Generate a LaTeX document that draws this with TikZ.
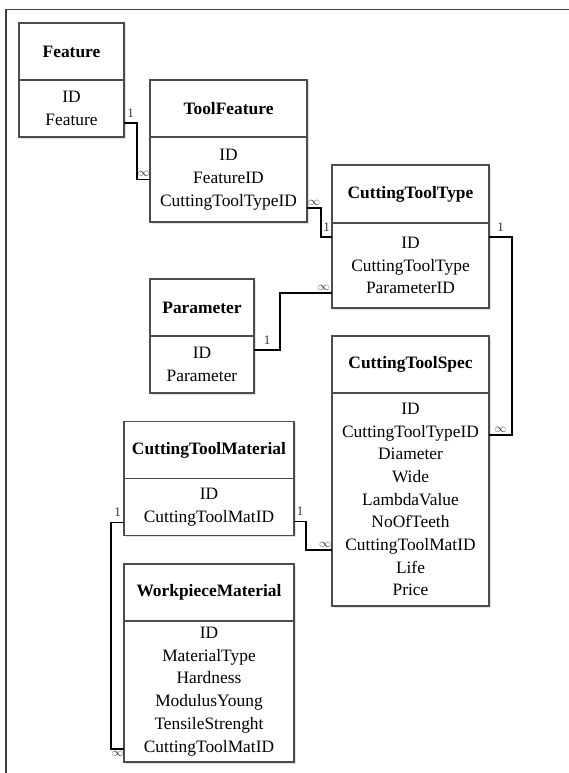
\documentclass[tikz,border=0pt]{standalone}
\usepackage{fontspec}
\setmainfont{Liberation Serif}
\usetikzlibrary{positioning,shadows}

\begin{document}
\fontsize{17.4}{22.7}\selectfont
\begin{tikzpicture}[x=1pt, y=-1pt,
  tab/.style={draw=black!70, line width=1.3pt, fill=white, inner sep=0pt, outer sep=0pt,
    minimum height=57pt, drop shadow={shadow xshift=1.5pt, shadow yshift=-1.5pt, fill=black!25}},
  head/.style={tab, font=\bfseries},
  rows/.style={tab, align=center},
  link/.style={line width=1.6pt},
  card/.style={font=\fontsize{13}{15}\selectfont, text=black!80, inner sep=1pt}]
  \useasboundingbox (0,0) rectangle (569,773);
  \draw[line width=1.8pt, black!75] (6,773) |- (569,9.5);

  \node[head, minimum width=105pt] (feat) at (71.5,51.5) {Feature};
  \node[rows, minimum width=105pt, below=0pt of feat] (featb) {ID\\Feature};

  \node[head, minimum width=157pt] (tf) at (228.5,108.5) {ToolFeature};
  \node[rows, minimum width=157pt, minimum height=85pt, below=0pt of tf] (tfb) {ID\\FeatureID\\CuttingToolTypeID};

  \node[head, minimum width=157pt, minimum height=58pt] (ctt) at (410.5,194) {CuttingToolType};
  \node[rows, minimum width=157pt, minimum height=85pt, below=0pt of ctt] (cttb) {ID\\CuttingToolType\\ParameterID};

  \node[head, minimum width=104pt] (par) at (202,307.5) {Parameter};
  \node[rows, minimum width=104pt, below=0pt of par] (parb) {ID\\Parameter};

  \node[head, minimum width=157pt] (cts) at (410.5,364.5) {CuttingToolSpec};
  \node[rows, minimum width=157pt, minimum height=213pt, below=0pt of cts] (ctsb)
    {ID\\CuttingToolTypeID\\Diameter\\Wide\\LambdaValue\\NoOfTeeth\\CuttingToolMatID\\Life\\Price};

  \node[head, minimum width=170pt] (ctm) at (209,450) {CuttingToolMaterial};
  \node[rows, minimum width=170pt, below=0pt of ctm] (ctmb) {ID\\CuttingToolMatID};

  \node[head, minimum width=170pt] (wm) at (209,592.5) {WorkpieceMaterial};
  \node[rows, minimum width=170pt, minimum height=141pt, below=0pt of wm] (wmb)
    {ID\\MaterialType\\Hardness\\ModulusYoung\\TensileStrenght\\CuttingToolMatID};

  \draw[link] ([yshift=-14.5pt]featb.east) -- node[card, above=4pt] {1} ++(13,0)
    |- node[card, above=1pt, pos=0.75] {$\infty$} (tfb.west);
  \draw[link] ([yshift=-28.5pt]tfb.east) -- node[card, above=1pt] {$\infty$} ++(14,0)
    |- node[card, above=4pt, pos=0.75] {1} ([yshift=28.5pt]cttb.west);
  \draw[link] ([yshift=14.5pt]parb.east) -- node[card, above=4pt] {1} ++(26,0)
    |- node[card, above=1pt, pos=0.92] {$\infty$} ([yshift=-27.5pt]cttb.west);
  \draw[link] ([yshift=28.5pt]cttb.east) -- node[card, above=4pt] {1} ++(23,0)
    |- node[card, above=1pt, pos=0.75] {$\infty$} ([yshift=64.5pt]ctsb.east);
  \draw[link] ([yshift=-14.5pt]ctmb.east) -- node[card, above=4pt] {1} ++(12,0)
    |- node[card, above=1pt, pos=0.87] {$\infty$} ([yshift=-50.5pt]ctsb.west);
  \draw[link] ([yshift=-15.5pt]ctmb.west) -- node[card, above=4pt] {1} ++(-13,0)
    |- node[card, below=1pt, pos=0.75] {$\infty$} ([yshift=-57.5pt]wmb.west);
\end{tikzpicture}
\end{document}
